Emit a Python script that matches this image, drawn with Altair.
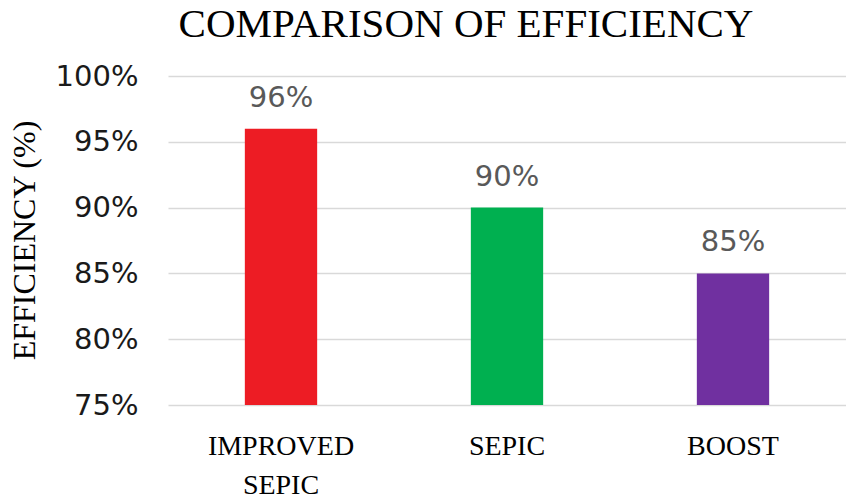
import altair as alt
import pandas as pd

categories = ["IMPROVED SEPIC", "SEPIC", "BOOST"]
efficiency = [0.96, 0.90, 0.85]
colors = ["#ED1C24", "#00B050", "#7030A0"]
labels = ["96%", "90%", "85%"]

df = pd.DataFrame({"cat": categories, "eff": efficiency, "color": colors, "label": labels})

x = alt.X(
    "cat:N",
    sort=categories,
    title=None,
    scale=alt.Scale(paddingInner=0.68, paddingOuter=0.34),
    axis=alt.Axis(
        labelAngle=0,
        labelFont="Liberation Serif",
        labelFontSize=28,
        labelColor="#000000",
        labelPadding=27,
        labelLineHeight=39,
        labelExpr="datum.value == 'IMPROVED SEPIC' ? ['IMPROVED', 'SEPIC'] : datum.label",
        ticks=False,
        domain=False,
        grid=False,
    ),
)

y_scale = alt.Scale(domain=[0.75, 1.0], zero=False, nice=False)

bars = alt.Chart(df).mark_bar().encode(
    x=x,
    y=alt.Y(
        "eff:Q",
        scale=y_scale,
        title="EFFICIENCY  (%)",
        axis=alt.Axis(
            format=".0%",
            values=[0.75, 0.80, 0.85, 0.90, 0.95, 1.0],
            labelFont="DejaVu Sans",
            labelFontSize=29,
            labelColor="#1a1a1a",
            labelPadding=30,
            ticks=False,
            domain=False,
            gridColor="#d9d9d9",
            gridWidth=1.5,
            titleFont="Liberation Serif",
            titleFontSize=32,
            titleFontWeight="normal",
            titleColor="#000000",
            titleX=-144,
            titleY=164,
            titleAngle=270,
            titleAlign="center",
            titleBaseline="middle",
        ),
    ),
    y2=alt.datum(0.75),
    color=alt.Color("color:N", scale=None),
)

text = alt.Chart(df).mark_text(
    font="DejaVu Sans", fontSize=29, color="#595959", dy=-16, baseline="bottom"
).encode(
    x=alt.X("cat:N", sort=categories),
    y=alt.Y("eff:Q", scale=y_scale),
    text="label:N",
)

chart = (
    alt.layer(bars, text)
    .properties(
        width=678,
        height=329,
        autosize=alt.AutoSizeParams(type="none"),
        padding={"left": 160, "top": 68, "right": 0, "bottom": 94},
        title=alt.TitleParams(
            "COMPARISON OF EFFICIENCY",
            font="Liberation Serif",
            fontSize=41,
            fontWeight="normal",
            color="#000000",
            anchor="middle",
            frame="group",
            dx=-41,
            offset=16,
        ),
    )
    .configure_view(stroke=None)
)

chart.save("out.html", embed_options={"renderer": "svg", "actions": False})
